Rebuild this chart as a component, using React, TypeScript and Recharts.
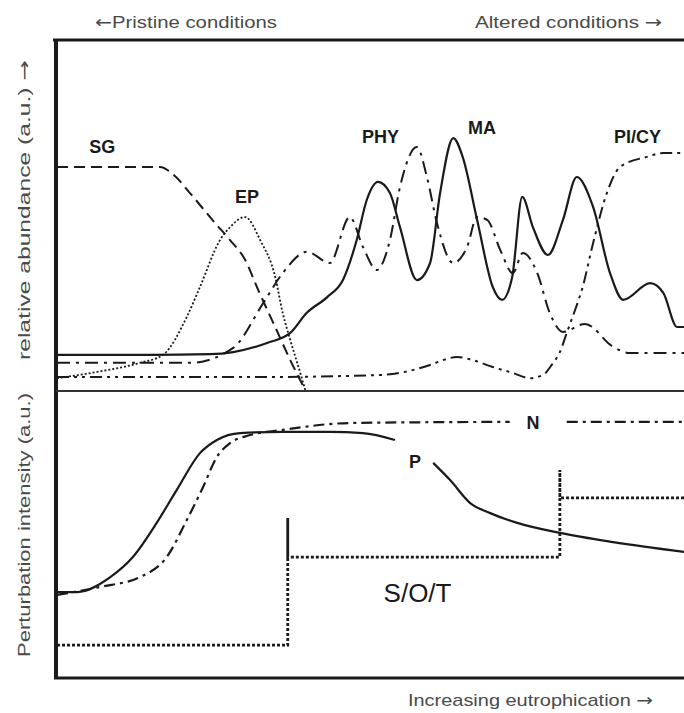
import { LineChart, Line, XAxis, YAxis, ReferenceDot } from "recharts";

// x: 0 = pristine, 100 = most eutrophic (a.u.); y: a.u.
const sgPts = [[0, 64.1], [6.9, 64.1], [16.4, 64.1], [18.8, 61.5], [21.2, 56.6], [25.2, 48.0], [27.6, 43.1], [30.0, 37.4], [32.1, 28.7], [34.8, 18.1], [37.2, 8.6], [39.6, 0]];
const epPts = [[0, 3.4], [6.4, 5.2], [13.2, 7.8], [16.9, 10.1], [20.7, 21.0], [22.8, 29.6], [26.0, 43.1], [27.6, 46.8], [30.0, 49.7], [32.4, 43.1], [34.8, 32.5], [36.0, 22.1], [37.2, 14.4], [38.8, 4.9], [39.6, 0]];
const maPts = [[0, 10.1], [14.8, 10.1], [24.4, 10.3], [28.1, 10.9], [33.5, 13.5], [37.2, 16.4], [39.8, 22.1], [43.1, 26.7], [45.6, 31.6], [47.8, 43.1], [49.4, 54.6], [51.2, 59.8], [53.1, 56.6], [54.7, 46.8], [57.4, 31.6], [59.5, 36.5], [61.1, 56.6], [63.2, 72.4], [64.7, 67.0], [67.0, 48.9], [69.5, 29.6], [71.0, 25.9], [72.6, 32.5], [74.2, 55.5], [75.9, 46.8], [78.3, 38.8], [80.7, 48.9], [82.9, 61.2], [85.5, 52.6], [88.2, 33.6], [90.3, 25.9], [94.6, 30.7], [96.7, 27.9], [98.9, 18.1], [100, 18.1]];
const phyPts = [[0, 7.8], [21.2, 7.8], [28.1, 12.1], [32.9, 25.0], [36.0, 33.6], [39.9, 39.7], [43.5, 36.5], [46.7, 49.7], [48.8, 41.1], [51.0, 34.5], [53.1, 43.1], [54.7, 58.3], [57.4, 69.8], [59.0, 61.2], [60.6, 48.0], [63.2, 36.5], [65.4, 41.1], [67.0, 49.7], [68.6, 48.9], [70.7, 40.2], [72.7, 33.6], [74.3, 39.4], [76.6, 33.6], [78.6, 22.1], [80.7, 16.7], [84.2, 19.0], [88.7, 12.4], [91.4, 10.6], [100, 10.6]];
const picyPts = [[0, 3.7], [14.8, 3.7], [30.8, 3.7], [51.5, 4.3], [59.5, 7.2], [61.6, 8.6], [63.8, 9.5], [66.3, 8.6], [69.5, 6.6], [72.7, 4.9], [75.4, 3.4], [77.5, 4.3], [78.9, 7.2], [80.2, 10.9], [81.3, 16.4], [82.9, 24.4], [83.7, 28.7], [85.5, 42.2], [87.7, 56.6], [89.8, 64.1], [94.1, 67.0], [96.7, 68.1], [100, 68.1]];

const pPts = [[0, 29.6], [3.2, 29.6], [8.5, 34.8], [12.1, 41.8], [15.9, 53.7], [19.1, 65.2], [22.8, 78.0], [25.5, 82.6], [29.2, 85.0], [36.0, 85.4], [43.5, 85.4], [48.8, 85.0], [53.9, 82.6], [56.9, null], [60.0, 74.6], [62.7, 68.6], [65.9, 60.6], [69.1, 57.1], [73.4, 53.7], [80.2, 50.2], [88.7, 47.0], [100, 43.6]];
const nPts = [[0, 28.6], [6.9, 31.4], [13.2, 34.8], [17.5, 41.8], [20.7, 54.7], [23.3, 66.2], [25.5, 76.7], [27.6, 81.5], [30.8, 84.3], [36.0, 86.1], [46.7, 88.5], [72.2, 88.9], [76.7, null], [81.3, 88.9], [100, 88.9]];
const sotPts = [[0, 11.1], [36.8, 11.1], [36.8, 55.4], [36.8, 41.8], [80.2, 41.8], [80.2, 72.1], [80.2, 62.4], [100, 62.4]];

const topLabels = [["SG", 7.2, 69.8], ["EP", 30.3, 55.5], ["PHY", 51.6, 72.7], ["MA", 67.8, 75.3], ["PI/CY", 92.6, 72.7]];
const bottomLabels = [["N", 75.9, 88.6], ["P", 57.1, 74.9]];
const sotLabel = ["S/O/T", 57.5, 29.3];

const toPts = (arr) => arr.map(([x, y]) => ({ x, y }));
const ink = "#1a1a1a";
const grey = "#4a4a4a";
const font = "'Liberation Sans', Arial, sans-serif";
const arrowFont = "'DejaVu Sans', sans-serif";

function Curve({ pts, dash, width = 2, linear = false }) {
  return (
    <Line
      data={toPts(pts)}
      dataKey="y"
      type={linear ? "linear" : "monotone"}
      stroke={ink}
      strokeWidth={width}
      strokeDasharray={dash}
      dot={false}
      activeDot={false}
      connectNulls={false}
      isAnimationActive={false}
    />
  );
}

function Tag({ text, x, y, size = 18, bold = true }) {
  return (
    <ReferenceDot
      x={x}
      y={y}
      r={0}
      fill="none"
      stroke="none"
      label={{ value: text, position: "center", fill: ink, fontSize: size, fontWeight: bold ? 700 : 400, fontFamily: font }}
    />
  );
}

export default function App() {
  return (
    <div style={{ position: "absolute", left: 0, top: 0, width: 684, height: 713, background: "#fff", overflow: "hidden" }}>
      <div style={{ position: "absolute", left: 0, top: 0 }}>
        <LineChart width={684} height={390} margin={{ top: 42, right: 0, bottom: 0, left: 57 }}>
          <XAxis type="number" dataKey="x" domain={[0, 100]} hide />
          <YAxis type="number" domain={[0, 100]} hide />
          {Curve({ pts: sgPts, dash: "11 6" })}
          {Curve({ pts: epPts, dash: "2 2", width: 1.8 })}
          {Curve({ pts: phyPts, dash: "13 6 3 6" })}
          {Curve({ pts: picyPts, dash: "12 5 3 5 3 5" })}
          {Curve({ pts: maPts, width: 2.2 })}
          {topLabels.map(([t, x, y]) => Tag({ text: t, x, y }))}
        </LineChart>
      </div>
      <div style={{ position: "absolute", left: 0, top: 390 }}>
        <LineChart width={684} height={287} margin={{ top: 0, right: 0, bottom: 0, left: 57 }}>
          <XAxis type="number" dataKey="x" domain={[0, 100]} hide />
          <YAxis type="number" domain={[0, 100]} hide />
          {Curve({ pts: sotPts, dash: "3 2", width: 2.8, linear: true })}
          {Curve({ pts: nPts, dash: "11 5 3 5", width: 2.2 })}
          {Curve({ pts: pPts, width: 2.2 })}
          {bottomLabels.map(([t, x, y]) => Tag({ text: t, x, y }))}
          {Tag({ text: sotLabel[0], x: sotLabel[1], y: sotLabel[2], size: 26, bold: false })}
        </LineChart>
      </div>
      <svg width={684} height={713} style={{ position: "absolute", left: 0, top: 0, pointerEvents: "none" }}>
        <line x1={53} y1={40} x2={684} y2={40} stroke={ink} strokeWidth={3} />
        <line x1={56} y1={39} x2={56} y2={679} stroke={ink} strokeWidth={4} />
        <line x1={54} y1={678} x2={684} y2={678} stroke={ink} strokeWidth={3} />
        <line x1={56} y1={391} x2={684} y2={391} stroke="#333" strokeWidth={2} />
        <g fill={grey} fontFamily={font} fontSize={17}>
          <text x={95} y={28} textLength={182} lengthAdjust="spacingAndGlyphs">
            <tspan fontFamily={arrowFont}>←</tspan>Pristine conditions
          </text>
          <text x={475} y={28} textLength={187} lengthAdjust="spacingAndGlyphs">
            Altered conditions <tspan fontFamily={arrowFont}>→</tspan>
          </text>
          <text x={408} y={706} textLength={245} lengthAdjust="spacingAndGlyphs">
            Increasing eutrophication <tspan fontFamily={arrowFont}>→</tspan>
          </text>
          <text x={30} y={360} transform="rotate(-90 30 360)" textLength={300} lengthAdjust="spacingAndGlyphs">
            relative abundance (a.u.) <tspan fontFamily={arrowFont}>→</tspan>
          </text>
          <text x={30} y={657} transform="rotate(-90 30 657)" textLength={264} lengthAdjust="spacingAndGlyphs">
            Perturbation intensity (a.u.)
          </text>
        </g>
      </svg>
    </div>
  );
}
